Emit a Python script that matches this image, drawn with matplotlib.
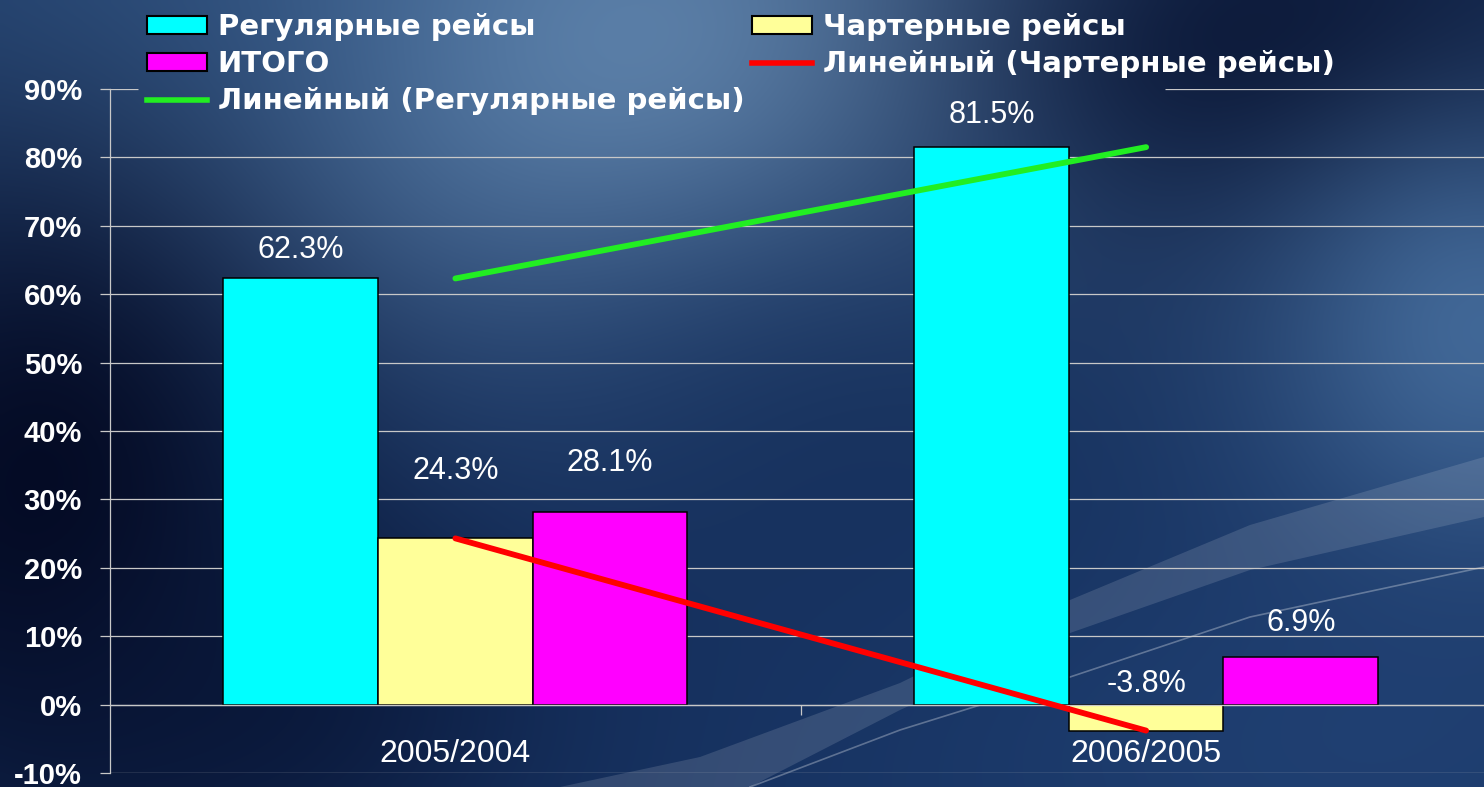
import matplotlib
matplotlib.use("Agg")
import matplotlib.pyplot as plt
import numpy as np
from matplotlib.lines import Line2D
from matplotlib.patches import Patch, Polygon

# data
categories = ["2005/2004", "2006/2005"]
regular = [62.3, 81.5]      # Регулярные рейсы
charter = [24.3, -3.8]      # Чартерные рейсы
total = [28.1, 6.9]         # ИТОГО
y_ticks = list(range(-10, 91, 10))

# where the value labels sit (data units), as in the original
label_y_regular = [66.4, 86.2]
label_y_charter = [34.1, 3.0]
label_y_total = [35.3, 11.9]

W, H = 1484, 787
fig = plt.figure(figsize=(W / 100, H / 100), dpi=100)

# background: dark blue gradient with a light streak
bg = fig.add_axes([0, 0, 1, 1], zorder=0)
gx, gy = np.meshgrid(np.linspace(0, W, 300), np.linspace(0, H, 160))
img = np.ones((160, 300, 3)) * np.array([0x17, 0x33, 0x62]) / 255
blobs = [  # cx, cy, sx, sy, colour, strength
    (650, 60, 380, 210, "#6a90b8", 0.95),
    (150, 20, 250, 150, "#2f5585", 0.6),
    (40, 500, 200, 260, "#030820", 0.95),
    (260, 700, 200, 140, "#081434", 0.7),
    (1300, 60, 260, 160, "#040d2a", 0.9),
    (1480, 330, 170, 170, "#4a73a3", 0.85),
    (850, 420, 250, 180, "#112a55", 0.6),
    (1350, 760, 300, 150, "#24467a", 0.6),
]
for cx, cy, sx, sy, col, a in blobs:
    c = np.array(matplotlib.colors.to_rgb(col))
    w = a * np.exp(-((gx - cx) ** 2 / (2 * sx ** 2) + (gy - cy) ** 2 / (2 * sy ** 2)))
    img = img * (1 - w[..., None]) + c * w[..., None]
bg.imshow(img, extent=[0, W, H, 0], aspect="auto", interpolation="bilinear")
band = [(560, 787), (700, 757), (900, 683), (1070, 600), (1250, 525), (1484, 457),
        (1484, 517), (1250, 570), (1070, 633), (900, 710), (750, 787)]
bg.add_patch(Polygon(band, closed=True, facecolor="white", alpha=0.13, lw=0))
bg.plot([750, 900, 1070, 1250, 1484], [787, 730, 677, 617, 567], color="white", alpha=0.3, lw=1.2)
bg.set_xlim(0, W)
bg.set_ylim(H, 0)
bg.axis("off")

# chart
ax = fig.add_axes([110 / W, 14 / H, 1381.5 / W, 684 / H], zorder=1)
ax.patch.set_alpha(0)
x = np.arange(len(categories))
bw = 0.224
grid_col = "#c8c8c8"

for v in y_ticks[:-1]:
    ax.axhline(v, color=grid_col, lw=0.9, zorder=0.5)
# top gridline is hidden behind the legend box
ax.hlines([90, 90], [-0.5, 1.027], [-0.46, 1.5], color=grid_col, lw=0.9, zorder=0.5)

series = [
    (regular, -bw, "#00ffff", label_y_regular),
    (charter, 0, "#ffff99", label_y_charter),
    (total, bw, "#ff00ff", label_y_total),
]
for vals, off, col, ly in series:
    ax.bar(x + off, vals, width=bw, color=col, edgecolor="black", lw=1.1, zorder=2)
    for xi, v, yy in zip(x + off, vals, ly):
        ax.text(xi, yy, f"{v}%", ha="center", va="center", color="white",
                fontsize=22, family=["Liberation Sans", "DejaVu Sans"])

# linear trend lines
for vals, col in [(regular, "#22ee22"), (charter, "#ff0000")]:
    k = np.polyfit(x, vals, 1)
    ax.plot(x, np.polyval(k, x), color=col, lw=4.2, solid_capstyle="round", zorder=3)

for xi, c in zip(x, categories):
    ax.text(xi, -7.15, c, ha="center", va="center", color="white",
            fontsize=23, family=["Liberation Sans", "DejaVu Sans"])

ax.set_xlim(-0.5, 1.5)
ax.set_ylim(-10, 90)
ax.set_yticks(y_ticks)
ax.set_yticklabels([f"{v}%" for v in y_ticks], family=["Liberation Sans", "DejaVu Sans"],
                   fontweight="bold")
ax.tick_params(axis="y", length=7.2, width=0.9, color=grid_col, pad=13,
               labelsize=21, labelcolor="white")
ax.set_xticks([0.5])
ax.set_xticklabels([])
ax.tick_params(axis="x", length=7.2, width=0.9, color=grid_col)
for s in ["top", "right"]:
    ax.spines[s].set_visible(False)
ax.spines["left"].set_color(grid_col)
ax.spines["left"].set_linewidth(0.9)
ax.spines["bottom"].set_position(("data", 0))
ax.spines["bottom"].set_color(grid_col)
ax.spines["bottom"].set_linewidth(0.9)

# legend in two columns
lp = dict(frameon=False, prop={"family": "DejaVu Sans", "weight": "bold", "size": 21},
          labelcolor="white", borderpad=0, borderaxespad=0, handlelength=2.05,
          handleheight=0.6, handletextpad=0.38, labelspacing=0.31, loc="upper left")
h1 = [Patch(facecolor="#00ffff", edgecolor="black", lw=1.5),
      Patch(facecolor="#ff00ff", edgecolor="black", lw=1.5),
      Line2D([], [], color="#22ee22", lw=4)]
h2 = [Patch(facecolor="#ffff99", edgecolor="black", lw=1.5),
      Line2D([], [], color="#ff0000", lw=4)]
leg1 = fig.legend(h1, ["Регулярные рейсы", "ИТОГО", "Линейный (Регулярные рейсы)"],
                  bbox_to_anchor=(147 / W, 0.983), **lp)
leg2 = fig.legend(h2, ["Чартерные рейсы", "Линейный (Чартерные рейсы)"],
                  bbox_to_anchor=(752 / W, 0.983), **lp)

fig.savefig("out.png", dpi=100)
